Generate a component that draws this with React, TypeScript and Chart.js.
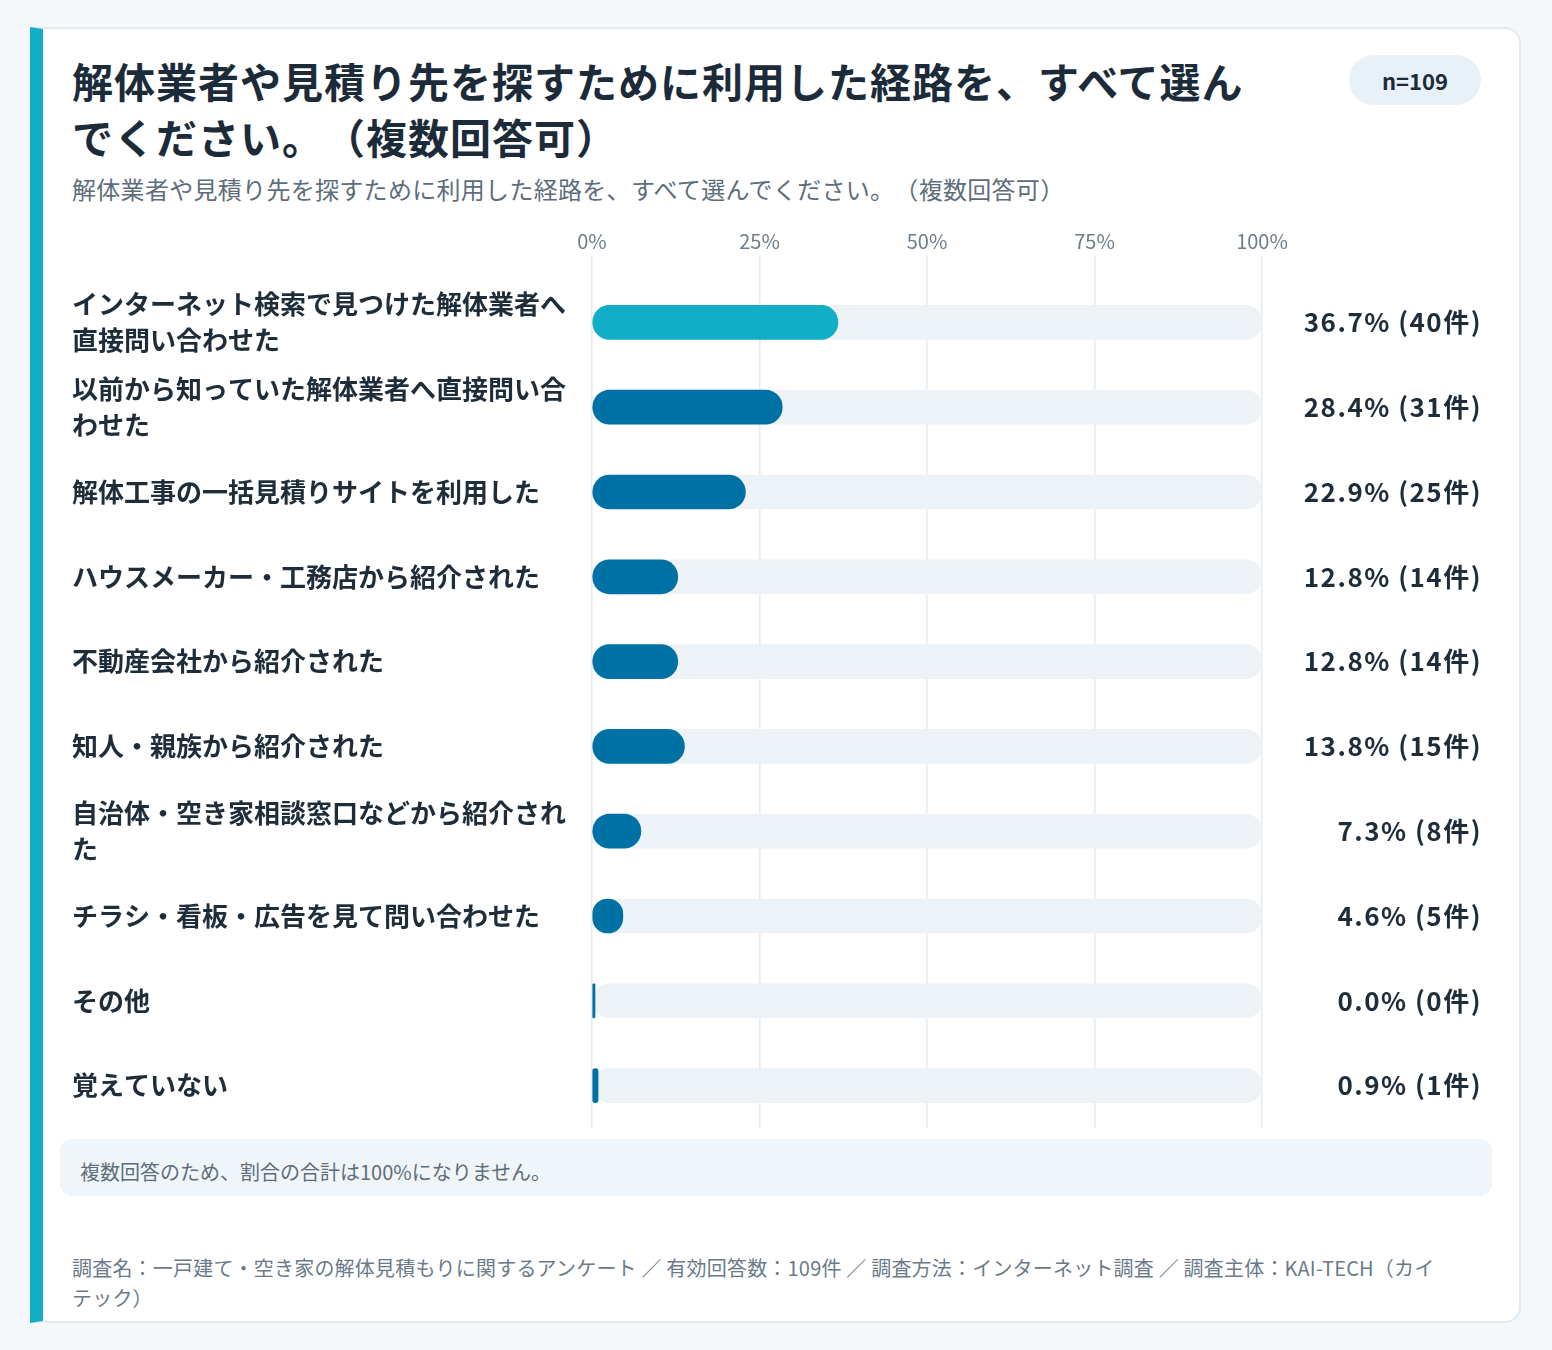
import React, { useEffect, useRef } from 'react';
import { Chart, registerables } from 'chart.js';

Chart.register(...registerables);

const FONT = '"Noto Sans CJK JP", "Noto Sans", sans-serif';

const categories = [
    'インターネット検索で見つけた解体業者へ直接問い合わせた',
    '以前から知っていた解体業者へ直接問い合わせた',
    '解体工事の一括見積りサイトを利用した',
    'ハウスメーカー・工務店から紹介された',
    '不動産会社から紹介された',
    '知人・親族から紹介された',
    '自治体・空き家相談窓口などから紹介された',
    'チラシ・看板・広告を見て問い合わせた',
    'その他',
    '覚えていない',
];
const percents = [36.7, 28.4, 22.9, 12.8, 12.8, 13.8, 7.3, 4.6, 0.0, 0.9];
const counts = [40, 31, 25, 14, 14, 15, 8, 5, 0, 1];
const trackValues = [100, 100, 100, 100, 100, 100, 100, 100, 100, 100];
const xTicks = [0, 25, 50, 75, 100];

const LABEL_FONT = `bold 26px ${FONT}`;
const TEAL = '#12adc7';
const BLUE = '#0071a4';

// split a label into lines that fit the left column
const wrapLabel = (text: string, maxWidth: number): string[] => {
    const ctx = document.createElement('canvas').getContext('2d')!;
    ctx.font = LABEL_FONT;
    const lines: string[] = [];
    let line = '';
    for (const ch of Array.from(text)) {
        if (line && ctx.measureText(line + ch).width > maxWidth) {
            lines.push(line);
            line = ch;
        } else {
            line += ch;
        }
    }
    if (line) lines.push(line);
    return lines;
};

const valueLabels = {
    id: 'valueLabels',
    afterDatasetsDraw(chart: any) {
        const { ctx } = chart;
        const meta = chart.getDatasetMeta(1);
        ctx.save();
        ctx.font = `bold 26px ${FONT}`;
        (ctx as any).letterSpacing = '1.5px';
        ctx.fillStyle = '#1f2d3a';
        ctx.textAlign = 'right';
        ctx.textBaseline = 'middle';
        meta.data.forEach((bar: any, i: number) => {
            ctx.fillText(`${percents[i].toFixed(1)}% (${counts[i]}件)`, chart.width - 10, bar.y);
        });
        ctx.restore();
    },
};

const RouteChart: React.FC = () => {
    const chartRef = useRef<HTMLCanvasElement | null>(null);

    useEffect(() => {
        if (!chartRef.current) return;
        const myChart = new Chart(chartRef.current, {
            type: 'bar',
            data: {
                labels: categories,
                datasets: [
                    {
                        label: 'track',
                        data: trackValues,
                        backgroundColor: '#edf2f6',
                        borderRadius: 17,
                        borderSkipped: false,
                        barThickness: 34,
                        grouped: false,
                        order: 2,
                    },
                    {
                        label: '割合',
                        data: percents,
                        backgroundColor: percents.map((_, i) => (i === 0 ? TEAL : BLUE)),
                        borderRadius: 17,
                        borderSkipped: false,
                        barThickness: 34,
                        minBarLength: 3,
                        grouped: false,
                        order: 1,
                    },
                ],
            },
            options: {
                indexAxis: 'y',
                animation: false,
                responsive: true,
                maintainAspectRatio: false,
                layout: { padding: { left: 12, right: 230, top: 11, bottom: 7 } },
                plugins: {
                    legend: { display: false },
                    tooltip: { enabled: false },
                },
                scales: {
                    x: {
                        position: 'top',
                        min: 0,
                        max: 100,
                        afterBuildTicks: (scale: any) => {
                            scale.ticks = xTicks.map((v) => ({ value: v }));
                        },
                        ticks: {
                            callback: (v: any) => `${v}%`,
                            color: '#6b7c8c',
                            font: { family: FONT, size: 20 },
                            padding: 3,
                        },
                        grid: { color: '#e4eaf0', tickLength: 24, lineWidth: 1.5 },
                        border: { display: false },
                    },
                    y: {
                        afterFit: (scale: any) => {
                            scale.width = 520;
                            scale.paddingTop = 0;
                            scale.paddingBottom = 0;
                        },
                        ticks: {
                            crossAlign: 'far',
                            color: '#1f2d3a',
                            font: { family: FONT, size: 26, weight: 'bold', lineHeight: 1.4 },
                            callback: (_v: any, i: number) => wrapLabel(categories[i], 500),
                        },
                        grid: { display: false },
                        border: { display: false },
                    },
                },
            },
            plugins: [valueLabels],
        });

        return () => {
            myChart.destroy();
        };
    }, []);

    return <canvas ref={chartRef} />;
};

const App: React.FC = () => {
    useEffect(() => {
        document.body.style.margin = '0';
        document.body.style.background = '#f4f8fb';
    }, []);

    const noTrim: any = { textSpacingTrim: 'space-all' };

    return (
        <div style={{ position: 'relative', width: 1552, height: 1350, background: '#f4f8fb', fontFamily: FONT }}>
            <div
                style={{
                    position: 'absolute',
                    left: 30,
                    top: 27,
                    width: 1491,
                    height: 1296,
                    boxSizing: 'border-box',
                    background: '#ffffff',
                    border: '2px solid #e2eaf1',
                    borderLeft: `13px solid ${TEAL}`,
                    borderRadius: '0 16px 16px 0',
                }}
            >
                <div
                    style={{
                        ...noTrim,
                        position: 'absolute',
                        left: 29,
                        top: 23,
                        width: 1190,
                        fontSize: 41,
                        letterSpacing: '1px',
                        lineHeight: '56px',
                        fontWeight: 700,
                        color: '#1c2b39',
                    }}
                >
                    解体業者や見積り先を探すために利用した経路を、すべて選んでください。（複数回答可）
                </div>
                <div
                    style={{
                        position: 'absolute',
                        left: 1306,
                        top: 26,
                        width: 132,
                        height: 50,
                        borderRadius: 25,
                        background: '#e8f1f7',
                        color: '#1c2b39',
                        fontSize: 22,
                        fontWeight: 700,
                        display: 'flex',
                        alignItems: 'center',
                        justifyContent: 'center',
                    }}
                >
                    n=109
                </div>
                <div
                    style={{
                        ...noTrim,
                        position: 'absolute',
                        left: 29,
                        top: 143,
                        fontSize: 24,
                        letterSpacing: '0.3px',
                        lineHeight: '34px',
                        color: '#5d6d7c',
                        whiteSpace: 'nowrap',
                    }}
                >
                    解体業者や見積り先を探すために利用した経路を、すべて選んでください。（複数回答可）
                </div>
                <div style={{ position: 'absolute', left: 17, top: 186, width: 1432, height: 920 }}>
                    <RouteChart />
                </div>
                <div
                    style={{
                        ...noTrim,
                        position: 'absolute',
                        left: 17,
                        top: 1110,
                        width: 1432,
                        height: 57,
                        boxSizing: 'border-box',
                        borderRadius: 12,
                        background: '#f0f5f9',
                        padding: '18px 20px 0',
                        fontSize: 20,
                        lineHeight: '30px',
                        color: '#5d6d7c',
                    }}
                >
                    複数回答のため、割合の合計は100%になりません。
                </div>
                <div
                    style={{
                        ...noTrim,
                        position: 'absolute',
                        left: 29,
                        top: 1224,
                        width: 1372,
                        fontSize: 20,
                        letterSpacing: '0.2px',
                        lineHeight: '30px',
                        color: '#6b7a89',
                    }}
                >
                    調査名：一戸建て・空き家の解体見積もりに関するアンケート ／ 有効回答数：109件 ／ 調査方法：インターネット調査 ／ 調査主体：KAI-TECH（カイテック）
                </div>
            </div>
        </div>
    );
};

export default App;
